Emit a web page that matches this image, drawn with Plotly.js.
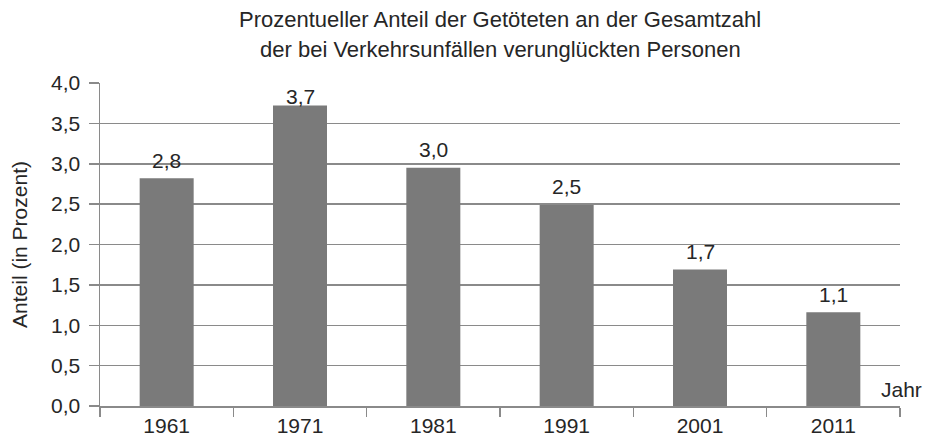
<!DOCTYPE html>
<html>
<head>
<meta charset="utf-8">
<script src="https://cdn.plot.ly/plotly-3.0.1.min.js"></script>
<style>html,body{margin:0;padding:0;background:#fff;}#chart{width:927px;height:437px;}</style>
</head>
<body>
<div id="chart"></div>
<script>
var years = ["1961", "1971", "1981", "1991", "2001", "2011"];
var shares = [2.82, 3.72, 2.95, 2.49, 1.69, 1.16];
var labels = ["2,8", "3,7", "3,0", "2,5", "1,7", "1,1"];
var yTicks = [0, 0.5, 1, 1.5, 2, 2.5, 3, 3.5, 4];
var yTickText = ["0,0", "0,5", "1,0", "1,5", "2,0", "2,5", "3,0", "3,5", "4,0"];
var titleLines = ["Prozentueller Anteil der Getöteten an der Gesamtzahl",
                  "der bei Verkehrsunfällen verunglückten Personen"];

var FONT = "Liberation Sans, Arial, sans-serif";
var TXT = "#262626";
var GRID = "#8a8a8a";
var FS = 21;
var plotH = 437 - 83 - 31;
var plotW = 927 - 100 - 27;
var pxPerUnit = plotH / 4;

var annotations = years.map(function (yr, i) {
  var shift = Math.min(18, (4 - shares[i]) * pxPerUnit - 13);
  return {
    x: i, y: shares[i], xref: "x", yref: "y",
    text: labels[i], showarrow: false,
    yanchor: "middle", yshift: shift,
    font: {family: FONT, size: FS, color: TXT}
  };
});
annotations.push({
  x: 1, y: 0, xref: "paper", yref: "paper", xanchor: "left", yanchor: "bottom",
  xshift: -21, yshift: 3, text: "Jahr", showarrow: false,
  font: {family: FONT, size: FS, color: TXT}
});
titleLines.forEach(function (t, i) {
  annotations.push({
    x: (500 - 100) / plotW, y: (437 - 31 - (20 + i * 30)) / plotH,
    xref: "paper", yref: "paper",
    text: t, showarrow: false, xanchor: "center", yanchor: "middle",
    font: {family: FONT, size: 22, color: TXT}
  });
});

var data = [{
  type: "bar",
  x: years,
  y: shares,
  marker: {color: "#7a7a7a", line: {width: 0}},
  hoverinfo: "none"
}];

var layout = {
  width: 927, height: 437,
  margin: {l: 100, r: 27, t: 83, b: 31},
  paper_bgcolor: "#fff", plot_bgcolor: "#fff",
  bargap: 0.595,
  showlegend: false,
  xaxis: {
    type: "category",
    categoryorder: "array", categoryarray: years,
    range: [-0.5, 5.5], autorange: false,
    tickson: "boundaries",
    ticks: "outside", ticklen: 9, tickcolor: GRID, tickwidth: 1.5,
    showline: true, linecolor: GRID, linewidth: 1.5,
    showgrid: false, zeroline: false,
    tickangle: 0,
    tickfont: {family: FONT, size: FS, color: TXT}
  },
  yaxis: {
    range: [0, 4], autorange: false,
    tickmode: "array", tickvals: yTicks, ticktext: yTickText,
    ticks: "outside", ticklen: 10, tickcolor: GRID, tickwidth: 1.5,
    showline: true, linecolor: GRID, linewidth: 1.5,
    showgrid: true, gridcolor: GRID, gridwidth: 1.5,
    zeroline: false,
    ticklabelstandoff: 4,
    tickfont: {family: FONT, size: FS, color: TXT},
    title: {text: "Anteil (in Prozent)", font: {family: FONT, size: 21, color: TXT}, standoff: 17}
  },
  annotations: annotations
};

Plotly.newPlot("chart", data, layout, {displayModeBar: false, staticPlot: true});
</script>
</body>
</html>
